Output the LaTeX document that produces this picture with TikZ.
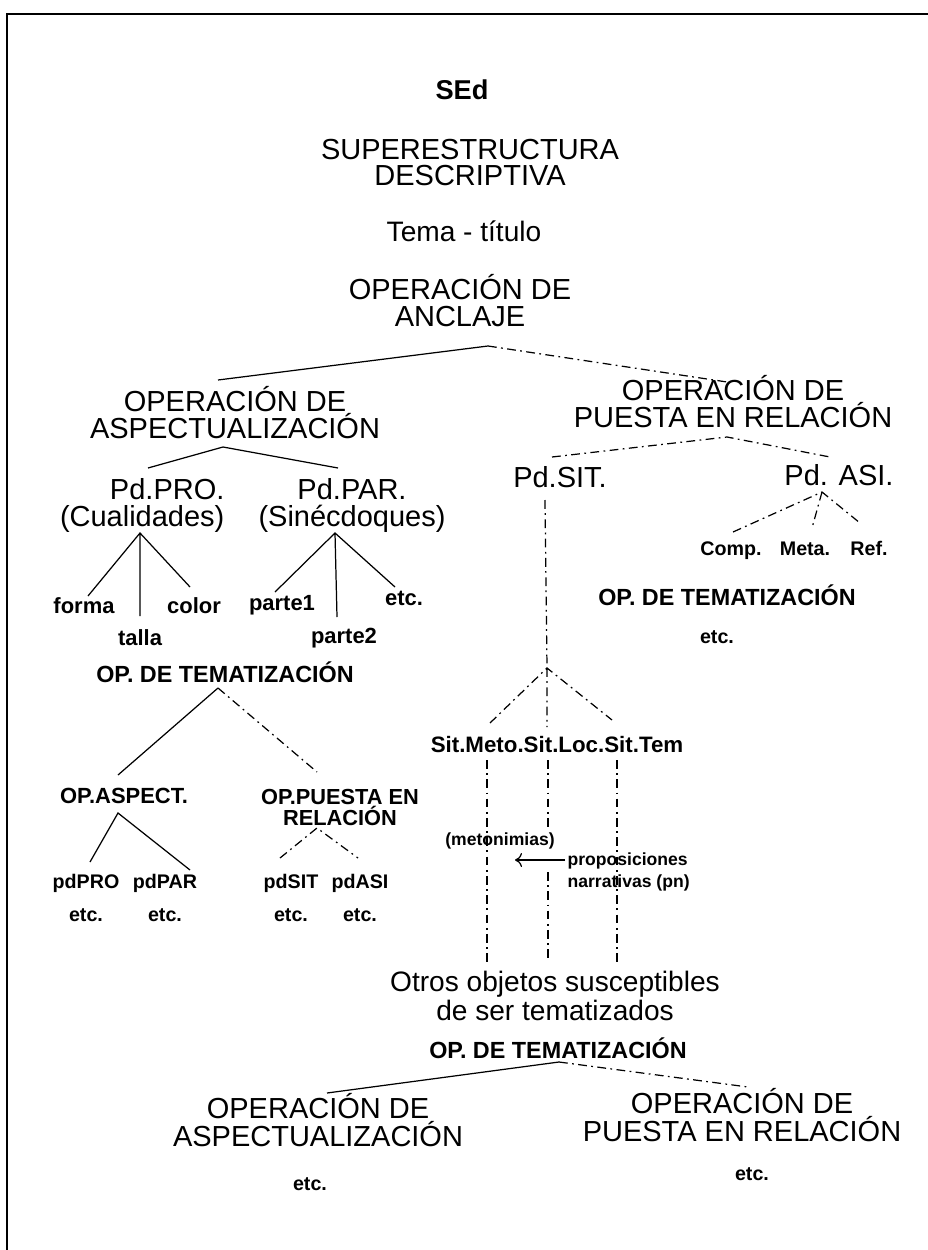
\documentclass[tikz,border=0pt]{standalone}
\usepackage{fontspec}
\setmainfont{Liberation Sans}
\usetikzlibrary{arrows.meta}
\tikzset{>={To[length=4pt,width=8pt]}}
\tikzset{
	big/.style={font=\fontsize{16.5}{15}\selectfont, align=center, inner sep=0pt, anchor=base},
	med/.style={font=\bfseries\fontsize{13.3}{11}\selectfont, align=center, inner sep=0pt, anchor=base},
	sml/.style={font=\bfseries\fontsize{12.5}{11}\selectfont, inner sep=0pt, anchor=base},
	lbl/.style={font=\bfseries\fontsize{11.2}{11}\selectfont, inner sep=0pt, anchor=base},
	note/.style={font=\bfseries\fontsize{10}{12.5}\selectfont, inner sep=0pt, anchor=base},
	dd/.style={dash pattern=on 5pt off 2.5pt on 1pt off 2.5pt}
}

\begin{document}
\begin{tikzpicture}[x=0.02cm, y=-0.02cm, line width=0.7pt]
	\useasboundingbox (0,0) rectangle (928,1250);
	\draw[line width=1.1pt] (7,1250)--(7,14)--(928,14);

	\node[big, font=\bfseries\fontsize{15.5}{15}\selectfont] (sed) at (462,100) {SEd};
	\node[big] (sup) at (470,186) {SUPERESTRUCTURA\\DESCRIPTIVA};
	\node[big, font=\fontsize{16}{15}\selectfont] (tema) at (464,241) {Tema - título};
	\node[big] (anc) at (460,326) {OPERACIÓN DE\\ANCLAJE};

	\node[big] (asp) at (235,438) {OPERACIÓN DE\\ASPECTUALIZACIÓN};
	\node[big] (rel) at (733,427) {OPERACIÓN DE\\PUESTA EN RELACIÓN};

	\node[big, align=right, anchor=base east] (pro) at (225,526) {Pd.PRO.\\(Cualidades)};
	\node[big] (par) at (352,526) {Pd.PAR.\\(Sinécdoques)};
	\node[big] (sit) at (560,487) {Pd.SIT.};
	\node[big] (asi) at (839,485) {Pd. ASI.};

	\node[lbl] (comp) at (731,555) {Comp.};
	\node[lbl] (meta) at (805,555) {Meta.};
	\node[lbl] (ref) at (869,555) {Ref.};
	\node[med] (temR) at (727,605) {OP. DE TEMATIZACIÓN};
	\node[lbl] (etcR) at (717,643) {etc.};

	\node[sml] (forma) at (84,613) {forma};
	\node[sml] (talla) at (140,645) {talla};
	\node[sml] (color) at (194,613) {color};
	\node[sml] (p1) at (282,610) {parte1};
	\node[sml] (p2) at (344,643) {parte2};
	\node[sml] (etcP) at (404,605) {etc.};

	\node[med] (temL) at (225,682) {OP. DE TEMATIZACIÓN};
	\node[sml] (opa) at (124,803) {OP.ASPECT.};
	\node[sml, align=center, font=\bfseries\fontsize{12.4}{11.5}\selectfont] (opp) at (340,825) {OP.PUESTA EN\\RELACIÓN};
	\node[lbl] (dPRO) at (86,888) {pdPRO};
	\node[lbl] (dPAR) at (165,888) {pdPAR};
	\node[lbl] (dSIT) at (291,888) {pdSIT};
	\node[lbl] (dASI) at (360,888) {pdASI};
	\node[lbl] (e1) at (86,921) {etc.};
	\node[lbl] (e2) at (165,921) {etc.};
	\node[lbl] (e3) at (291,921) {etc.};
	\node[lbl] (e4) at (360,921) {etc.};

	\node[sml, font=\bfseries\fontsize{12.7}{11}\selectfont] (srow) at (557,752) {Sit.Meto.Sit.Loc.Sit.Tem};
	\node[note] (meton) at (500,845) {(metonimias)};
	\node[note, align=left, anchor=base west] (prop) at (567,887) {proposiciones\\narrativas (pn)};

	\node[big, font=\fontsize{16}{16}\selectfont] (otros) at (555,1020) {Otros objetos susceptibles\\de ser tematizados};
	\node[med] (temB) at (558,1058) {OP. DE TEMATIZACIÓN};
	\node[big, font=\fontsize{16.5}{15.5}\selectfont] (aspB) at (318,1146) {OPERACIÓN DE\\ASPECTUALIZACIÓN};
	\node[big, font=\fontsize{16.5}{15.5}\selectfont] (relB) at (742,1141) {OPERACIÓN DE\\PUESTA EN RELACIÓN};
	\node[lbl] (etcBL) at (310,1190) {etc.};
	\node[lbl] (etcBR) at (752,1180) {etc.};

	\path (488,346) coordinate (ancA) (218,380) coordinate (ancL) (727,382) coordinate (ancR)
		(223,447) coordinate (aspA) (148,468) coordinate (aspL) (338,468) coordinate (aspR)
		(727,437) coordinate (relA) (552,457) coordinate (relL) (830,457) coordinate (relR)
		(140,533) coordinate (proA) (88,596) coordinate (proL) (140,616) coordinate (proM) (190,587) coordinate (proR)
		(335,533) coordinate (parA) (275,592) coordinate (parL) (337,617) coordinate (parM) (395,587) coordinate (parR)
		(822,492) coordinate (asiA) (733,532) coordinate (asiL) (812,528) coordinate (asiM) (860,523) coordinate (asiR)
		(545,500) coordinate (sitT) (547,668) coordinate (sitA) (490,723) coordinate (sitL) (547,727) coordinate (sitM) (612,720) coordinate (sitR)
		(218,688) coordinate (temA) (118,775) coordinate (temAL) (317,772) coordinate (temAR)
		(118,813) coordinate (opaA) (90,862) coordinate (opaL) (190,870) coordinate (opaR)
		(317,828) coordinate (oppA) (280,858) coordinate (oppL) (358,858) coordinate (oppR)
		(559,1062) coordinate (tbA) (327,1093) coordinate (tbL) (748,1087) coordinate (tbR)
		(487,760) coordinate (v1) (487,962) coordinate (w1)
		(548,760) coordinate (v2) (548,830) coordinate (v2a) (548,872) coordinate (v2b) (548,962) coordinate (w2)
		(617,760) coordinate (v3) (617,962) coordinate (w3)
		(565,860) coordinate (arS) (515,860) coordinate (arT);

	\draw (ancL)--(ancA);
	\draw[dd] (ancA)--(ancR);
	\draw (aspL)--(aspA)--(aspR);
	\draw[dd] (relL)--(relA)--(relR);
	\draw (proL)--(proA)--(proR) (proA)--(proM);
	\draw (parL)--(parA)--(parR) (parA)--(parM);
	\draw[dd] (asiL)--(asiA)--(asiR) (asiA)--(asiM);
	\draw[dd] (sitT)--(sitA);
	\draw[dd] (sitL)--(sitA)--(sitR) (sitA)--(sitM);
	\draw (temA)--(temAL);
	\draw[dd] (temA)--(temAR);
	\draw (opaL)--(opaA)--(opaR);
	\draw[dd] (oppL)--(oppA)--(oppR);
	\draw[dd] (v1)--(w1) (v2)--(v2a) (v2b)--(w2) (v3)--(w3);
	\draw[->] (arS)--(arT);
	\draw (tbL)--(tbA);
	\draw[dd] (tbA)--(tbR);
\end{tikzpicture}
\end{document}
